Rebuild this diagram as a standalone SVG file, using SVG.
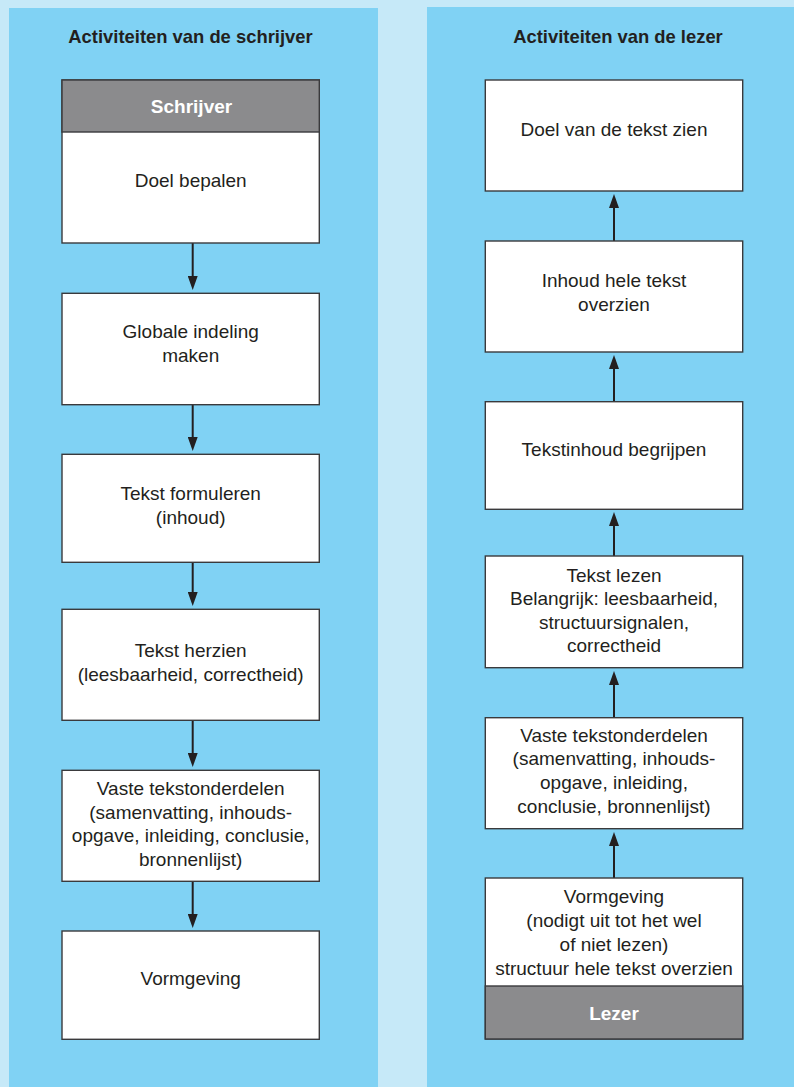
<svg xmlns="http://www.w3.org/2000/svg" width="794" height="1087" viewBox="0 0 794 1087">
<style>
.bg{fill:#c6e9f8}
.panel{fill:#80d2f4}
.box{fill:#ffffff;stroke:#3a3a3c;stroke-width:1.4}
.head{fill:#8b8b8d;stroke:#3a3a3c;stroke-width:1.4}
.t{font-family:"Liberation Sans",Arial,sans-serif;font-size:19px;fill:#231f20;text-anchor:middle}
.title{font-family:"Liberation Sans",Arial,sans-serif;font-size:18.4px;font-weight:bold;fill:#231f20;text-anchor:middle}
.ht{font-family:"Liberation Sans",Arial,sans-serif;font-size:19px;font-weight:bold;fill:#ffffff;text-anchor:middle}
.arr{stroke:#231f20;stroke-width:2;fill:none;marker-end:url(#ah)}
</style>
<defs>
<marker id="ah" viewBox="0 0 14 10" refX="6" refY="5" markerWidth="14" markerHeight="10" markerUnits="userSpaceOnUse" orient="auto">
<path d="M0,0 L14,5 L0,10 z" fill="#231f20"/>
</marker>
</defs>
<rect class="bg" x="0" y="0" width="794" height="1087"/>
<rect class="panel" x="9" y="8" width="369" height="1079"/>
<rect class="panel" x="427" y="7" width="367" height="1080"/>
<text class="title" x="190.5" y="43">Activiteiten van de schrijver</text>
<text class="title" x="618" y="43">Activiteiten van de lezer</text>

<g id="connectors">
<line class="arr" x1="192.7" y1="243" x2="192.7" y2="282"/>
<line class="arr" x1="192.7" y1="405" x2="192.7" y2="443"/>
<line class="arr" x1="192.7" y1="562" x2="192.7" y2="598"/>
<line class="arr" x1="192.7" y1="720" x2="192.7" y2="759"/>
<line class="arr" x1="192.7" y1="881" x2="192.7" y2="920"/>
<line class="arr" x1="614" y1="241" x2="614" y2="202"/>
<line class="arr" x1="614" y1="402" x2="614" y2="363"/>
<line class="arr" x1="614" y1="556" x2="614" y2="520"/>
<line class="arr" x1="614" y1="718" x2="614" y2="679"/>
<line class="arr" x1="614" y1="878" x2="614" y2="840"/>
</g>

<g id="s1">
<rect class="box" x="62" y="80" width="257.3" height="163"/>
<rect class="head" x="62" y="80" width="257.3" height="52"/>
<text class="ht" x="191.5" y="113">Schrijver</text>
<text class="t" x="190.7" y="187">Doel bepalen</text>
</g>
<g id="s2">
<rect class="box" x="62" y="293.3" width="257.3" height="111.4"/>
<text class="t" x="190.7" y="338.3">Globale indeling</text>
<text class="t" x="190.7" y="362">maken</text>
</g>
<g id="s3">
<rect class="box" x="62" y="454.3" width="257.3" height="108"/>
<text class="t" x="190.7" y="500">Tekst formuleren</text>
<text class="t" x="190.7" y="523.5">(inhoud)</text>
</g>
<g id="s4">
<rect class="box" x="62" y="609.3" width="257.3" height="111"/>
<text class="t" x="190.7" y="656.7">Tekst herzien</text>
<text class="t" x="190.7" y="680.5">(leesbaarheid, correctheid)</text>
</g>
<g id="s5">
<rect class="box" x="62" y="770.3" width="257.3" height="111"/>
<text class="t" x="190.7" y="795">Vaste tekstonderdelen</text>
<text class="t" x="190.7" y="818.5">(samenvatting, inhouds-</text>
<text class="t" x="190.7" y="842">opgave, inleiding, conclusie,</text>
<text class="t" x="190.7" y="865.5">bronnenlijst)</text>
</g>
<g id="s6">
<rect class="box" x="62" y="931" width="257.3" height="108.3"/>
<text class="t" x="190.7" y="985">Vormgeving</text>
</g>

<g id="l1">
<rect class="box" x="485.3" y="80" width="257.4" height="111"/>
<text class="t" x="614" y="136">Doel van de tekst zien</text>
</g>
<g id="l2">
<rect class="box" x="485.3" y="241" width="257.4" height="111"/>
<text class="t" x="614" y="287.3">Inhoud hele tekst</text>
<text class="t" x="614" y="311">overzien</text>
</g>
<g id="l3">
<rect class="box" x="485.3" y="401.7" width="257.4" height="107.6"/>
<text class="t" x="614" y="455.7">Tekstinhoud begrijpen</text>
</g>
<g id="l4">
<rect class="box" x="485.3" y="556" width="257.4" height="111.7"/>
<text class="t" x="614" y="581.7">Tekst lezen</text>
<text class="t" x="614" y="605">Belangrijk: leesbaarheid,</text>
<text class="t" x="614" y="629">structuursignalen,</text>
<text class="t" x="614" y="652.3">correctheid</text>
</g>
<g id="l5">
<rect class="box" x="485.3" y="717.7" width="257.4" height="111"/>
<text class="t" x="614" y="741.7">Vaste tekstonderdelen</text>
<text class="t" x="614" y="765.3">(samenvatting, inhouds-</text>
<text class="t" x="614" y="789.3">opgave, inleiding,</text>
<text class="t" x="614" y="813.3">conclusie, bronnenlijst)</text>
</g>
<g id="l6">
<rect class="box" x="485.3" y="878" width="257.4" height="161"/>
<rect class="head" x="485.3" y="986" width="257.4" height="53"/>
<text class="t" x="614" y="903.3">Vormgeving</text>
<text class="t" x="614" y="927">(nodigt uit tot het wel</text>
<text class="t" x="614" y="951">of niet lezen)</text>
<text class="t" x="614" y="975">structuur hele tekst overzien</text>
<text class="ht" x="614" y="1020">Lezer</text>
</g>
</svg>
